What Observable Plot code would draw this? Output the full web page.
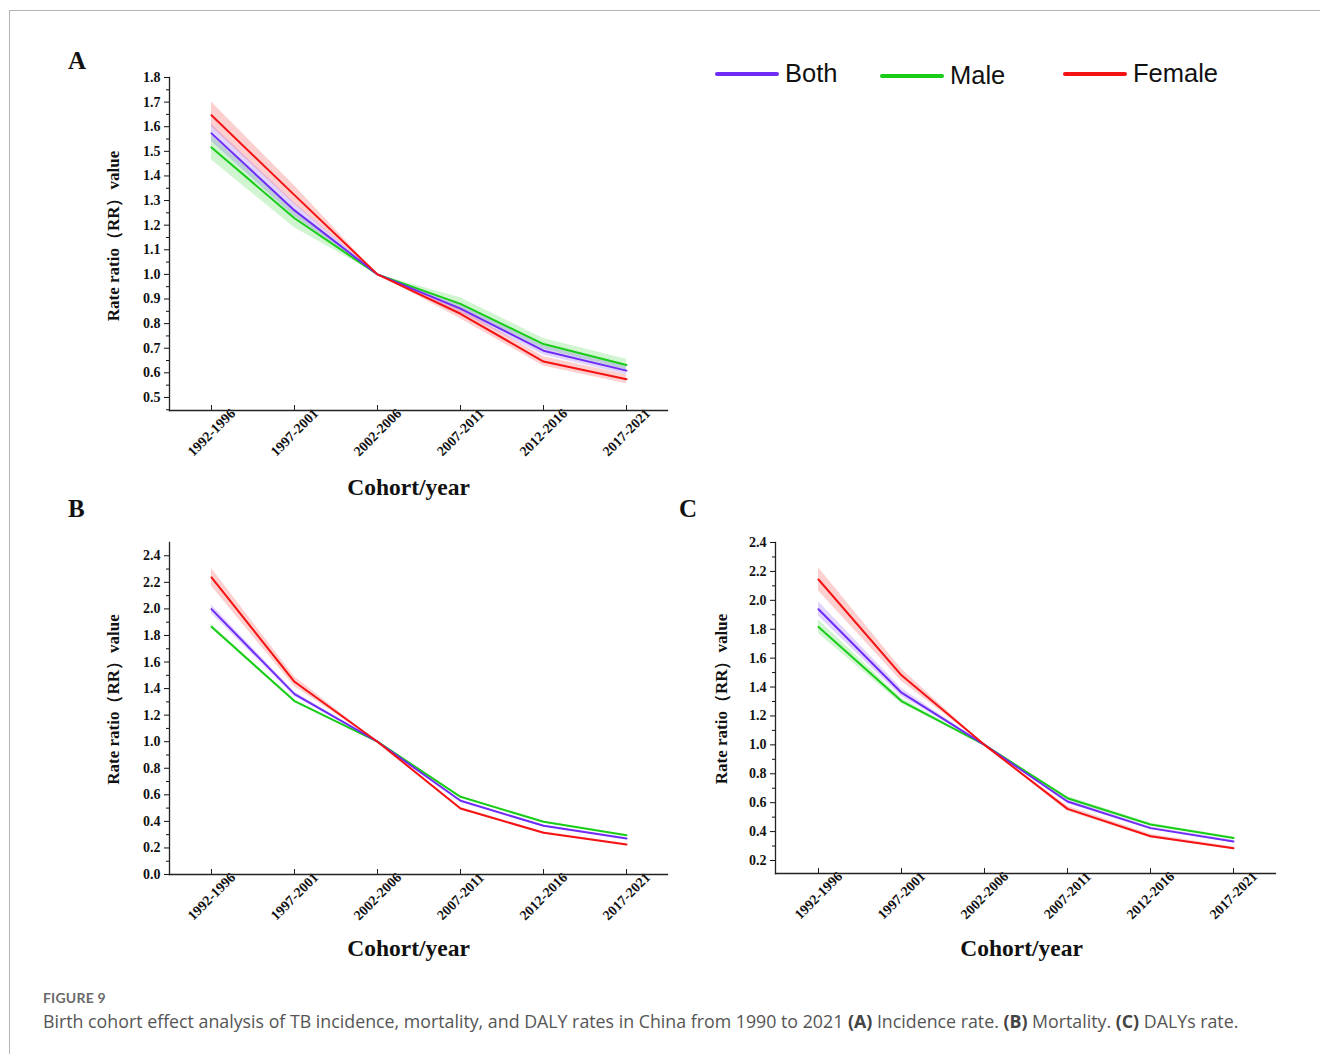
<!DOCTYPE html>
<html>
<head>
<meta charset="utf-8">
<script src="https://cdn.jsdelivr.net/npm/d3@7"></script>
<script src="https://cdn.jsdelivr.net/npm/@observablehq/plot@0.6"></script>
<style>
  html, body { margin: 0; padding: 0; background: #fff; }
  body { width: 1320px; height: 1054px; position: relative; overflow: hidden; }
  .frame { position: absolute; left: 9px; top: 10px; width: 1320px; height: 1100px;
           border-top: 1.5px solid #b4b4b4; border-left: 1.5px solid #b4b4b4; }
  .panel { position: absolute; }
  .letter { position: absolute; font-family: "Liberation Serif", serif; font-weight: bold;
            font-size: 25px; color: #111; line-height: 1; }
  .leg-line { position: absolute; height: 4px; border-radius: 2px; }
  .leg-text { position: absolute; font-family: "Liberation Sans", Arial, sans-serif; font-size: 25.5px;
              color: #111; line-height: 1; }
  .fig { position: absolute; left: 43px; top: 989px; font-family: Lato, "Open Sans", sans-serif;
         font-weight: bold; font-size: 14px; color: #6a6a6a; letter-spacing: 0.2px; }
  .cap { position: absolute; left: 43px; top: 1009px; font-family: "Open Sans", Lato, sans-serif;
         font-size: 17.8px; color: #555; white-space: nowrap; }
  .cap b { color: #444; }
</style>
</head>
<body>
<div class="frame"></div>
<div class="letter" style="left:68px;top:48px">A</div>
<div class="letter" style="left:68px;top:496px">B</div>
<div class="letter" style="left:679px;top:496px">C</div>
<div id="legend"></div>
<div id="pA" class="panel" style="left:60px;top:40px"></div>
<div id="pB" class="panel" style="left:60px;top:520px"></div>
<div id="pC" class="panel" style="left:700px;top:520px"></div>
<div class="fig">FIGURE 9</div>
<div class="cap">Birth cohort effect analysis of TB incidence, mortality, and DALY rates in China from 1990 to 2021 <b>(A)</b> Incidence rate. <b>(B)</b> Mortality. <b>(C)</b> DALYs rate.</div>
<script>
// ---- data ----
const cohorts = ["1992-1996", "1997-2001", "2002-2006", "2007-2011", "2012-2016", "2017-2021"];
const seriesNames = ["Both", "Male", "Female"];
const seriesColors = ["#6f2cf6", "#18cc18", "#f51212"];

// Panel A: incidence rate
const A_both      = [1.573, 1.260, 1.0, 0.861, 0.690, 0.609];
const A_both_lo   = [1.540, 1.235, 1.0, 0.845, 0.672, 0.592];
const A_both_hi   = [1.610, 1.290, 1.0, 0.878, 0.710, 0.628];
const A_male      = [1.516, 1.228, 1.0, 0.880, 0.717, 0.632];
const A_male_lo   = [1.465, 1.190, 1.0, 0.860, 0.697, 0.612];
const A_male_hi   = [1.565, 1.260, 1.0, 0.905, 0.740, 0.655];
const A_female    = [1.647, 1.322, 1.0, 0.840, 0.646, 0.574];
const A_female_lo = [1.600, 1.285, 1.0, 0.820, 0.628, 0.556];
const A_female_hi = [1.700, 1.360, 1.0, 0.860, 0.665, 0.592];

// Panel B: mortality
const B_both      = [1.998, 1.358, 1.0, 0.555, 0.367, 0.271];
const B_both_lo   = [1.965, 1.340, 1.0, 0.548, 0.361, 0.266];
const B_both_hi   = [2.030, 1.375, 1.0, 0.562, 0.373, 0.276];
const B_male      = [1.865, 1.306, 1.0, 0.585, 0.397, 0.296];
const B_male_lo   = [1.850, 1.298, 1.0, 0.580, 0.393, 0.292];
const B_male_hi   = [1.880, 1.314, 1.0, 0.590, 0.401, 0.300];
const B_female    = [2.237, 1.451, 1.0, 0.497, 0.314, 0.226];
const B_female_lo = [2.170, 1.415, 1.0, 0.488, 0.307, 0.220];
const B_female_hi = [2.305, 1.490, 1.0, 0.506, 0.321, 0.232];

// Panel C: DALYs rate
const C_both      = [1.938, 1.361, 1.0, 0.608, 0.424, 0.332];
const C_both_lo   = [1.890, 1.335, 1.0, 0.595, 0.414, 0.324];
const C_both_hi   = [1.990, 1.390, 1.0, 0.622, 0.434, 0.340];
const C_male      = [1.816, 1.303, 1.0, 0.631, 0.449, 0.355];
const C_male_lo   = [1.770, 1.283, 1.0, 0.620, 0.441, 0.348];
const C_male_hi   = [1.865, 1.323, 1.0, 0.642, 0.457, 0.362];
const C_female    = [2.144, 1.481, 1.0, 0.557, 0.368, 0.285];
const C_female_lo = [2.065, 1.440, 1.0, 0.540, 0.355, 0.276];
const C_female_hi = [2.225, 1.525, 1.0, 0.575, 0.381, 0.294];

// y axis ticks
const A_yTicks = [0.5, 0.6, 0.7, 0.8, 0.9, 1.0, 1.1, 1.2, 1.3, 1.4, 1.5, 1.6, 1.7, 1.8];
const A_yMinor = [0.45, 0.55, 0.65, 0.75, 0.85, 0.95, 1.05, 1.15, 1.25, 1.35, 1.45, 1.55, 1.65, 1.75];
const B_yTicks = [0.0, 0.2, 0.4, 0.6, 0.8, 1.0, 1.2, 1.4, 1.6, 1.8, 2.0, 2.2, 2.4];
const B_yMinor = [0.1, 0.3, 0.5, 0.7, 0.9, 1.1, 1.3, 1.5, 1.7, 1.9, 2.1, 2.3];
const C_yTicks = [0.2, 0.4, 0.6, 0.8, 1.0, 1.2, 1.4, 1.6, 1.8, 2.0, 2.2, 2.4];
const C_yMinor = [0.3, 0.5, 0.7, 0.9, 1.1, 1.3, 1.5, 1.7, 1.9, 2.1, 2.3];

const yLabel = "Rate ratio（RR）value";
const xLabel = "Cohort/year";

function rows(groups) {
  const out = [];
  groups.forEach(([name, v, lo, hi]) => {
    cohorts.forEach((c, i) => out.push({series: name, cohort: c, value: v[i], lo: lo[i], hi: hi[i]}));
  });
  return out;
}

function panel(el, cfg) {
  const data = rows(cfg.groups);
  const plotH = cfg.height - cfg.mt - cfg.mb;
  const order = ["Male", "Both", "Female"];
  const marks = [];
  order.forEach(s => {
    marks.push(Plot.areaY(data.filter(d => d.series === s), {
      x: "cohort", y1: "lo", y2: "hi", fill: "series", fillOpacity: 0.2, curve: "linear"
    }));
  });
  order.forEach(s => {
    marks.push(Plot.lineY(data.filter(d => d.series === s), {
      x: "cohort", y: "value", stroke: "series", strokeWidth: 2
    }));
  });
  const fmt = d3.format(".1f");
  marks.push(
    Plot.axisY({ticks: cfg.yMinor, tickSize: 3, tickFormat: () => "", strokeWidth: 1}),
    Plot.axisY({ticks: cfg.yTicks, tickSize: 5, text: null, label: null}),
    Plot.text(cfg.yTicks, {y: d => d, text: d => fmt(d), frameAnchor: "left", dx: -9,
                           textAnchor: "end", lineAnchor: "middle", fontSize: 14}),
    Plot.ruleX(cohorts, {x: d => d, insetTop: plotH - 5, stroke: "#222"}),
    Plot.text(cohorts, {x: d => d, text: d => d, frameAnchor: "bottom", dy: 22, rotate: -45,
                        textAnchor: "middle", lineAnchor: "middle", fontSize: 14}),
    Plot.frame({anchor: "left", stroke: "#222", strokeWidth: 1.3}),
    Plot.frame({anchor: "bottom", stroke: "#222", strokeWidth: 1.3}),
    Plot.text([yLabel], {frameAnchor: "left", dx: -cfg.ylOff, dy: cfg.ylDy, rotate: -90,
                         textAnchor: "middle", lineAnchor: "middle", fontSize: 17, text: d => d}),
    Plot.text([xLabel], {frameAnchor: "bottom", dx: cfg.xlDx, dy: cfg.xlDy,
                         textAnchor: "middle", lineAnchor: "middle", fontSize: 23.5, text: d => d})
  );
  const chart = Plot.plot({
    width: cfg.width, height: cfg.height,
    marginLeft: cfg.ml, marginRight: cfg.mr, marginTop: cfg.mt, marginBottom: cfg.mb,
    style: {fontFamily: "Liberation Serif, Times New Roman, serif", fontWeight: "bold", color: "#111",
            background: "transparent", overflow: "visible"},
    x: {type: "point", domain: cohorts, padding: 0.5, axis: null},
    y: {domain: cfg.yDomain, axis: null},
    color: {domain: seriesNames, range: seriesColors},
    marks
  });
  document.getElementById(el).appendChild(chart);
}

panel("pA", {
  width: 640, height: 480, ml: 109, mr: 33, mt: 37, mb: 110,
  yDomain: [0.447, 1.8], yTicks: A_yTicks, yMinor: A_yMinor,
  ylOff: 56, ylDy: -8, xlDx: -10, xlDy: 77,
  groups: [["Both", A_both, A_both_lo, A_both_hi], ["Male", A_male, A_male_lo, A_male_hi],
           ["Female", A_female, A_female_lo, A_female_hi]]
});
panel("pB", {
  width: 640, height: 460, ml: 109, mr: 33, mt: 22, mb: 106,
  yDomain: [0, 2.5], yTicks: B_yTicks, yMinor: B_yMinor,
  ylOff: 56, ylDy: -9, xlDx: -10, xlDy: 74,
  groups: [["Both", B_both, B_both_lo, B_both_hi], ["Male", B_male, B_male_lo, B_male_hi],
           ["Female", B_female, B_female_lo, B_female_hi]]
});
panel("pC", {
  width: 600, height: 460, ml: 75, mr: 25, mt: 22, mb: 107,
  yDomain: [0.11, 2.4], yTicks: C_yTicks, yMinor: C_yMinor,
  ylOff: 54, ylDy: -9, xlDx: -4, xlDy: 75,
  groups: [["Both", C_both, C_both_lo, C_both_hi], ["Male", C_male, C_male_lo, C_male_hi],
           ["Female", C_female, C_female_lo, C_female_hi]]
});

// ---- legend (HTML) ----
const legendPos = [{lx: 715, ly: 72, tx: 785, ty: 61}, {lx: 880, ly: 74, tx: 950, ty: 63}, {lx: 1063, ly: 72, tx: 1133, ty: 61}];
const leg = document.getElementById("legend");
seriesNames.forEach((name, i) => {
  const p = legendPos[i];
  const line = document.createElement("div");
  line.className = "leg-line";
  Object.assign(line.style, {left: p.lx + "px", top: p.ly + "px", width: "64px", background: seriesColors[i]});
  leg.appendChild(line);
  const t = document.createElement("div");
  t.className = "leg-text";
  Object.assign(t.style, {left: p.tx + "px", top: p.ty + "px"});
  t.textContent = name;
  leg.appendChild(t);
});
</script>
</body>
</html>
